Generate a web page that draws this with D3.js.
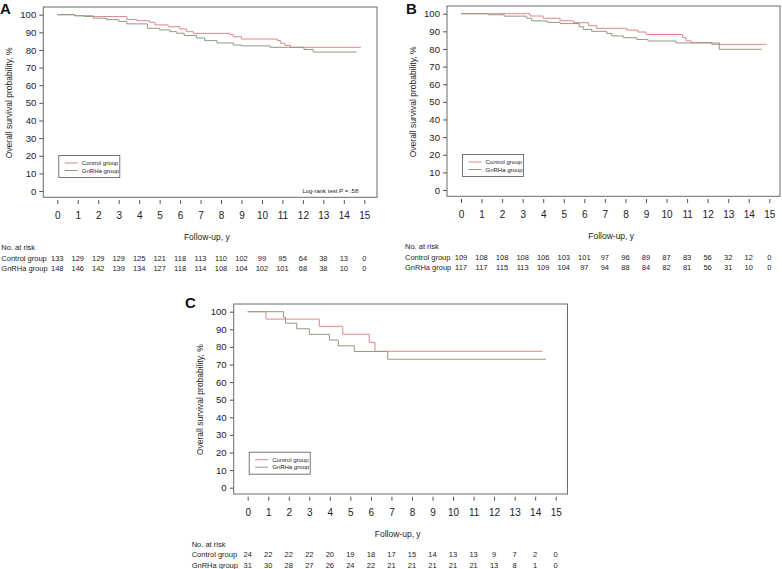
<!DOCTYPE html>
<html>
<head>
<meta charset="utf-8">
<script src="https://cdn.jsdelivr.net/npm/d3@7"></script>
<style>
  html, body { margin: 0; padding: 0; background: #fff; }
  svg { display: block; font-family: "Liberation Sans", Arial, sans-serif; }
</style>
</head>
<body>
<svg id="chart" width="782" height="569"></svg>
<script>
// ---------------- DATA ----------------
const years = [0,1,2,3,4,5,6,7,8,9,10,11,12,13,14,15];
const yTicks = [0,10,20,30,40,50,60,70,80,90,100];
const groupNames = ["Control group", "GnRHa group"];

// Kaplan-Meier steps: [time (years), survival %]
const curveA_control = [[0,100],[0.85,99.4],[1.75,99.0],[3.4,97.2],[3.9,96.6],[4.5,95.7],[4.77,94.2],[5.42,93.2],[5.99,91.9],[6.32,90.4],[6.64,89.4],[8.44,88.7],[8.6,87.5],[9.0,86.2],[10.75,85.3],[10.9,83.8],[11.12,82.6],[11.4,81.5],[14.84,81.5]];
const curveA_gnrha   = [[0,100],[0.86,99.4],[1.3,99.0],[1.76,98.0],[2.41,97.2],[3.0,96.2],[3.4,94.8],[4.4,92.3],[5.0,91.4],[5.5,90.4],[5.83,89.5],[6.2,88.2],[6.8,86.8],[7.2,85.3],[7.8,84.0],[8.6,82.8],[9.0,82.3],[10.4,81.5],[12.05,80.3],[12.5,78.8],[14.63,78.8]];
const curveB_control = [[0,100],[3.36,98.7],[4.0,97.4],[4.82,96.0],[5.47,94.9],[6.2,93.2],[6.6,91.7],[8.06,90.7],[8.6,89.6],[9.0,88.2],[10.78,86.4],[10.95,84.6],[11.2,83.6],[12.2,82.6],[14.87,82.6]];
const curveB_gnrha   = [[0,100],[1.33,99.4],[2.1,98.6],[3.2,97.4],[3.44,95.9],[4.2,95.1],[4.82,94.4],[5.75,92.6],[5.95,91.1],[6.36,90.0],[7.09,88.8],[7.33,87.4],[7.9,86.4],[8.55,85.4],[9.1,84.5],[10.45,83.4],[12.57,79.8],[14.63,79.8]];
const curveC_control = [[0,100],[0.89,95.8],[3.49,91.7],[4.63,87.2],[5.92,82.6],[6.2,77.5],[14.35,77.5]];
const curveC_gnrha   = [[0,100],[1.74,96.8],[1.84,93.5],[2.39,90.3],[3.0,87.1],[3.98,83.9],[4.41,80.6],[5.19,77.4],[6.82,73.0],[14.52,73.0]];

// Numbers at risk
const riskA_control = [133,129,129,129,125,121,118,113,110,102,99,95,64,38,13,0];
const riskA_gnrha   = [148,146,142,139,134,127,118,114,108,104,102,101,68,38,10,0];
const riskB_control = [109,108,108,108,106,103,101,97,96,89,87,83,56,32,12,0];
const riskB_gnrha   = [117,117,115,113,109,104,97,94,88,84,82,81,56,31,10,0];
const riskC_control = [24,22,22,22,20,19,18,17,15,14,13,13,9,7,2,0];
const riskC_gnrha   = [31,30,28,27,26,24,22,21,21,21,21,21,13,8,1,0];

// ---------------- LAYOUT / STYLE ----------------
const colors = ["#e0858d", "#8f9a84"];
const panels = [
  { letter: "A", x0: 57.3, x15: 364.3, y100: 14.7, y0: 191.0, boxRight: 377, letterX: 0, letterY: 14,
    curves: [curveA_control, curveA_gnrha], risk: [riskA_control, riskA_gnrha], logrank: true },
  { letter: "B", x0: 461.0, x15: 769.3, y100: 13.7, y0: 190.0, boxRight: 780, letterX: 406, letterY: 14,
    curves: [curveB_control, curveB_gnrha], risk: [riskB_control, riskB_gnrha], logrank: false },
  { letter: "C", x0: 247.7, x15: 555.7, y100: 311.7, y0: 487.7, boxRight: 567.5, letterX: 185, letterY: 308,
    curves: [curveC_control, curveC_gnrha], risk: [riskC_control, riskC_gnrha], logrank: false }
];

const svg = d3.select("#chart");

panels.forEach(p => {
  const g = svg.append("g");
  const x = d3.scaleLinear().domain([0, 15]).range([p.x0, p.x15]);
  const y = d3.scaleLinear().domain([0, 100]).range([p.y0, p.y100]);
  const boxL = p.x0 - 14, boxR = p.boxRight, boxT = p.y100 - 7.7, boxB = p.y0 + 6.3;

  // panel letter
  g.append("text").attr("x", p.letterX).attr("y", p.letterY)
    .attr("font-size", 15).attr("font-weight", "bold").attr("fill", "#111").text(p.letter);

  // box
  g.append("rect").attr("x", boxL).attr("y", boxT)
    .attr("width", boxR - boxL).attr("height", boxB - boxT)
    .attr("fill", "none").attr("stroke", "#6a6a6a").attr("stroke-width", 1);

  // y axis
  const yAxis = d3.axisLeft(y).tickValues(yTicks).tickSize(4).tickPadding(3).tickSizeOuter(0);
  const ya = g.append("g").attr("transform", `translate(${boxL},0)`).call(yAxis);
  ya.select(".domain").remove();
  ya.selectAll("line").attr("stroke", "#555");
  ya.selectAll("text").attr("font-size", 9.6).attr("fill", "#222").attr("font-family", "Liberation Sans, Arial, sans-serif");

  // x axis (ticks detached below box)
  const xAxis = d3.axisBottom(x).tickValues(years).tickSize(4).tickPadding(8).tickSizeOuter(0);
  const xa = g.append("g").attr("transform", `translate(0,${p.y0 + 9})`).call(xAxis);
  xa.select(".domain").remove();
  xa.selectAll("line").attr("stroke", "#555");
  xa.selectAll("text").attr("font-size", 10).attr("fill", "#222").attr("font-family", "Liberation Sans, Arial, sans-serif");

  // axis titles
  g.append("text").attr("x", (p.x0 + p.x15) / 2 - 4).attr("y", p.y0 + 49)
    .attr("text-anchor", "middle").attr("font-size", 8.5).attr("fill", "#222").text("Follow-up, y");
  g.append("text")
    .attr("transform", `translate(${boxL - 31},${(p.y0 + p.y100) / 2}) rotate(-90)`)
    .attr("text-anchor", "middle").attr("font-size", 8.5).attr("fill", "#222")
    .text("Overall survival probability, %");

  // curves
  const line = d3.line().x(d => x(d[0])).y(d => y(d[1])).curve(d3.curveStepAfter);
  p.curves.forEach((c, i) => {
    g.append("path").datum(c).attr("d", line)
      .attr("fill", "none").attr("stroke", colors[i]).attr("stroke-width", 1);
  });

  // legend
  const lx = p.x0 + 1.5, ly = p.y0 - 35.5;
  g.append("rect").attr("x", lx).attr("y", ly).attr("width", 61).attr("height", 22)
    .attr("fill", "#fff").attr("stroke", "#555").attr("stroke-width", 0.8);
  groupNames.forEach((nm, i) => {
    const yy = ly + 7.5 + i * 7.5;
    g.append("line").attr("x1", lx + 6).attr("x2", lx + 19).attr("y1", yy).attr("y2", yy)
      .attr("stroke", colors[i]).attr("stroke-width", 1);
    g.append("text").attr("x", lx + 23).attr("y", yy + 2).attr("font-size", 6).attr("fill", "#222").text(nm);
  });

  // log-rank annotation
  if (p.logrank) {
    const t = g.append("text").attr("x", p.x15 - 6).attr("y", p.y0 + 2)
      .attr("text-anchor", "end").attr("font-size", 6).attr("fill", "#222");
    t.append("tspan").text("Log-rank test ");
    t.append("tspan").attr("font-style", "italic").text("P");
    t.append("tspan").text(" = .58");
  }

  // risk table
  const labX = p.x0 - 56;
  g.append("text").attr("x", labX).attr("y", p.y0 + 59).attr("font-size", 7.5).attr("fill", "#222").text("No. at risk");
  p.risk.forEach((row, i) => {
    const yy = p.y0 + 69.5 + i * 10.6;
    g.append("text").attr("x", labX).attr("y", yy).attr("font-size", 7.5).attr("fill", "#222").text(groupNames[i]);
    g.selectAll(null).data(row).enter().append("text")
      .attr("x", (d, j) => x(years[j])).attr("y", yy)
      .attr("text-anchor", "middle").attr("font-size", 7.5).attr("fill", "#222")
      .text(d => d);
  });
});
</script>
</body>
</html>
